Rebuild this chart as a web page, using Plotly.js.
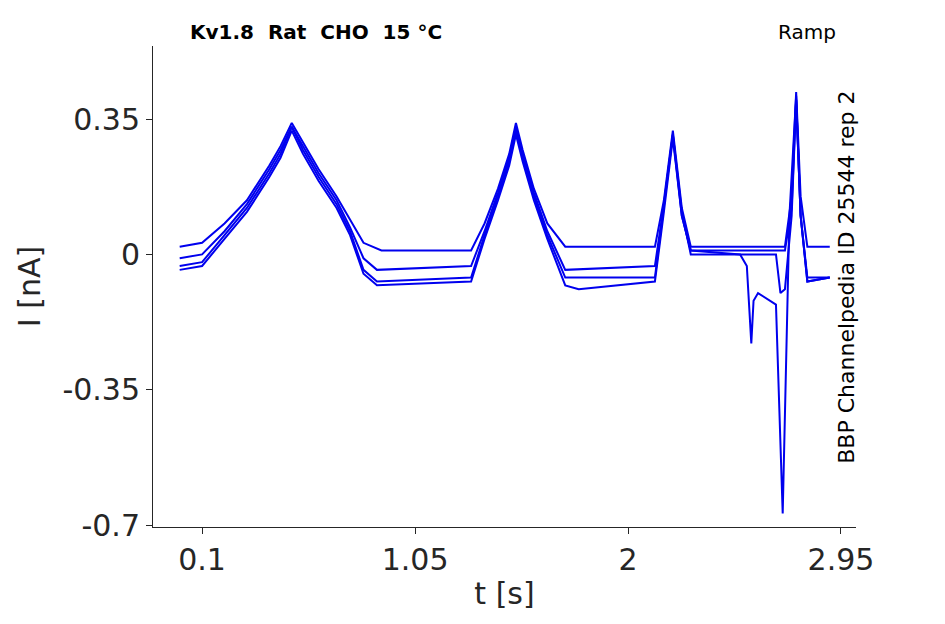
<html><head><script src="https://cdn.plot.ly/plotly-3.0.1.min.js"></script></head><body style="margin:0">
<div id="g" style="width:945px;height:624px"></div>
<script>
const tA=[0,0.1,0.2,0.3,0.4,0.45,0.5,0.55,0.62,0.7,0.76,0.82,0.9,1.3,1.36,1.42,1.47,1.5,1.53,1.58,1.64,1.72,2.12,2.16,2.2,2.24,2.28,2.7,2.73,2.75,2.77,2.8,2.9];
const iA=[0.02,0.03,0.08,0.14,0.23,0.28,0.34,0.29,0.22,0.15,0.09,0.03,0.01,0.01,0.08,0.17,0.26,0.34,0.27,0.17,0.08,0.02,0.02,0.14,0.32,0.12,0.02,0.02,0.15,0.42,0.15,0.02,0.02];
const tB=[0,0.1,0.2,0.3,0.4,0.45,0.5,0.55,0.62,0.7,0.76,0.82,0.88,1.3,1.36,1.42,1.47,1.5,1.53,1.58,1.64,1.72,2.12,2.16,2.2,2.24,2.28,2.66,2.68,2.7,2.73,2.75,2.77,2.8,2.9];
const iB=[-0.01,0.0,0.06,0.13,0.22,0.27,0.33,0.28,0.21,0.14,0.07,-0.01,-0.04,-0.03,0.06,0.16,0.25,0.33,0.26,0.16,0.06,-0.04,-0.03,0.13,0.31,0.11,0.0,0.0,-0.1,-0.09,0.1,0.4,0.1,-0.06,-0.06];
const tC=[0,0.1,0.2,0.3,0.4,0.45,0.5,0.55,0.62,0.7,0.76,0.82,0.88,1.3,1.36,1.42,1.47,1.5,1.53,1.58,1.64,1.72,2.12,2.16,2.2,2.24,2.28,2.5,2.53,2.55,2.56,2.58,2.66,2.69,2.72,2.75,2.77,2.8,2.9];
const iC=[-0.03,-0.02,0.05,0.12,0.21,0.26,0.33,0.27,0.2,0.13,0.06,-0.04,-0.07,-0.06,0.05,0.15,0.24,0.32,0.25,0.15,0.05,-0.06,-0.06,0.12,0.31,0.1,0.01,0.0,-0.03,-0.23,-0.12,-0.1,-0.13,-0.67,0.1,0.41,0.1,-0.07,-0.06];
const tD=[0,0.1,0.2,0.3,0.4,0.45,0.5,0.55,0.62,0.7,0.76,0.82,0.88,1.3,1.36,1.42,1.47,1.5,1.53,1.58,1.64,1.72,1.78,2.12,2.16,2.2,2.24,2.28,2.7,2.73,2.75,2.77,2.8,2.9];
const iD=[-0.04,-0.03,0.04,0.11,0.2,0.25,0.32,0.26,0.19,0.12,0.05,-0.05,-0.08,-0.07,0.04,0.14,0.23,0.31,0.24,0.14,0.04,-0.08,-0.09,-0.07,0.11,0.3,0.1,0.01,0.01,0.12,0.4,0.1,-0.07,-0.06];
const S=[[tA,iA],[tB,iB],[tC,iC],[tD,iD]];
const data=S.map(s=>({x:s[0],y:s[1],mode:'lines',line:{color:'#0000ee',width:2},showlegend:false}));
const f={family:'DejaVu Sans',size:30,color:'#262626'};
Plotly.newPlot('g',data,{
 margin:{l:153,r:89,t:46,b:97},paper_bgcolor:'white',plot_bgcolor:'white',
 xaxis:{range:[-0.119,3.017],tickvals:[0.1,1.05,2,2.95],ticktext:['0.1','1.05','2','2.95'],ticks:'outside',ticklen:6,tickcolor:'#262626',showline:true,linecolor:'#262626',showgrid:false,zeroline:false,tickfont:f,title:{text:'t [s]',font:f,standoff:6}},
 yaxis:{range:[-0.705,0.539],tickvals:[0.35,0,-0.35,-0.7],ticktext:['0.35','0','-0.35','-0.7'],ticks:'outside',ticklen:6,tickcolor:'#262626',showline:true,linecolor:'#262626',showgrid:false,zeroline:false,tickfont:f,title:{text:'I [nA]',font:f,standoff:12}},
 annotations:[
  {text:'<b>Kv1.8  Rat  CHO  15 °C</b>',xref:'paper',yref:'paper',x:0.05,y:1.0,xanchor:'left',yanchor:'bottom',showarrow:false,font:{family:'DejaVu Sans',size:20,color:'black'}},
  {text:'Ramp',xref:'paper',yref:'paper',x:0.975,y:1.0,xanchor:'right',yanchor:'bottom',showarrow:false,font:{family:'DejaVu Sans',size:20,color:'black'}},
  {text:'BBP Channelpedia ID 25544 rep 2',xref:'paper',yref:'paper',x:0.987,y:0.52,textangle:-90,xanchor:'center',yanchor:'middle',showarrow:false,font:{family:'DejaVu Sans',size:22,color:'black'}}
 ]},{displayModeBar:false});
</script></body></html>
